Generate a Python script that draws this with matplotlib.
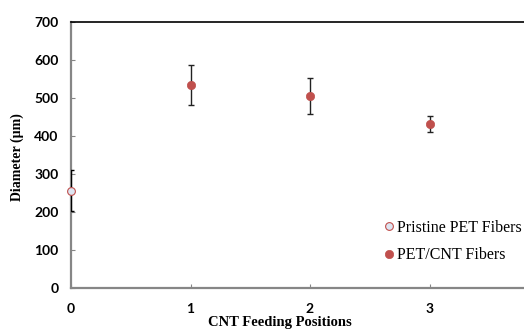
import matplotlib.pyplot as plt

# data
pristine_pos = [0]
pristine_diam = [256]
pristine_err = [53]

cnt_pos = [1, 2, 3]
cnt_diam = [533, 505, 432]
cnt_err = [52, 48, 21]

y_ticks = [0, 100, 200, 300, 400, 500, 600, 700]
x_ticks = [0, 1, 2, 3]

red = '#c0504d'
gray = '#868686'

fig = plt.figure(figsize=(5.24, 3.29), dpi=100)
ax = fig.add_axes([71 / 524, 1 - 288 / 329, 1 - 71 / 524, (288 - 21.7) / 329])

# error bars first, markers on top (legend shows markers only)
ax.errorbar(pristine_pos, pristine_diam, yerr=pristine_err, fmt='none',
            ecolor='black', elinewidth=1, capsize=2.2, capthick=1, zorder=3)
ax.errorbar(cnt_pos, cnt_diam, yerr=cnt_err, fmt='none',
            ecolor='#222222', elinewidth=1, capsize=2.2, capthick=1, zorder=3)
ax.plot(pristine_pos, pristine_diam, 'o', ms=5.6, mfc='#dde5f1', mec=red,
        mew=0.8, label='Pristine PET Fibers', zorder=4, clip_on=False)
ax.plot(cnt_pos, cnt_diam, 'o', ms=6, mfc=red, mec=red, mew=0.5,
        label='PET/CNT Fibers', zorder=4)

ax.set_xlim(0, 453 / 119.5)
ax.set_ylim(0, 700)
ax.set_xticks(x_ticks)
ax.set_yticks(y_ticks)

ax.spines['right'].set_visible(False)
ax.spines['top'].set_color('black')
ax.spines['top'].set_linewidth(1.2)
for s in ['left', 'bottom']:
    ax.spines[s].set_color(gray)
    ax.spines[s].set_linewidth(1.6)

ax.tick_params(axis='both', direction='in', length=3, width=0.8, color=gray)
ax.tick_params(axis='y', pad=9)
ax.tick_params(axis='x', pad=11)
for lab in ax.get_xticklabels() + ax.get_yticklabels():
    lab.set_family('Lato')
    lab.set_fontweight('bold')
    lab.set_fontsize(10)

fig.text(17 / 524, 1 - 157 / 329, 'Diameter (µm)', rotation=90,
         ha='center', va='center', family='Liberation Serif',
         fontweight='bold', fontsize=10)
fig.text(280 / 524, 1 - 316 / 329, 'CNT Feeding Positions', ha='center',
         va='top', family='Liberation Serif', fontweight='bold', fontsize=10.5)

ax.legend(loc='upper left', bbox_to_anchor=(384 / 524, 1 - 220 / 329),
          bbox_transform=fig.transFigure, frameon=False, borderpad=0,
          borderaxespad=0, handlelength=0.6, handletextpad=0.2,
          labelspacing=0.7, prop={'family': 'Liberation Serif', 'size': 11.5})

fig.savefig('out.png', dpi=100)
